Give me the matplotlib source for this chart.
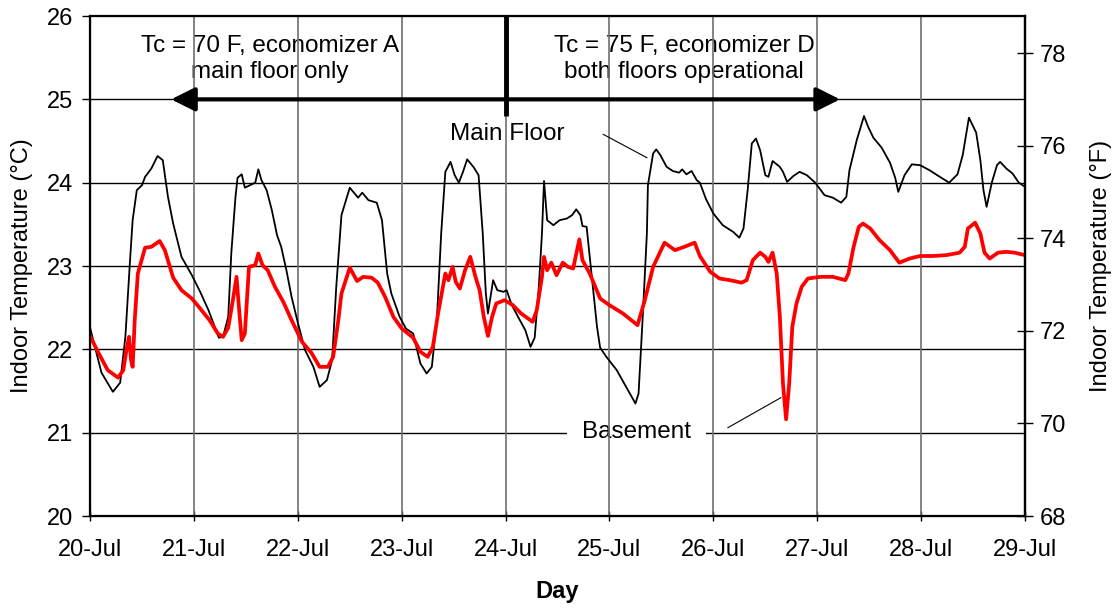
import matplotlib
matplotlib.use('Agg')
import matplotlib.pyplot as plt

plt.rcParams.update({
    'font.family': ['Liberation Sans', 'DejaVu Sans'],
    'font.size': 17,
})

# x positions are days after 20-Jul 00:00
day_ticks = list(range(10))
day_labels = ['20-Jul', '21-Jul', '22-Jul', '23-Jul', '24-Jul',
              '25-Jul', '26-Jul', '27-Jul', '28-Jul', '29-Jul']

main_floor_day = [
    0.00, 0.11, 0.22, 0.29, 0.34, 0.385, 0.41, 0.45, 0.50, 0.53, 0.59, 0.65, 0.70,
    0.75, 0.80, 0.88, 0.98, 1.06, 1.14, 1.20, 1.24, 1.28, 1.33, 1.36, 1.40, 1.42,
    1.46, 1.49, 1.54, 1.59, 1.62, 1.65, 1.70, 1.75, 1.80, 1.84, 1.89, 1.94, 2.00,
    2.07, 2.15, 2.21, 2.28, 2.33, 2.37, 2.42, 2.50, 2.58, 2.62, 2.68, 2.76, 2.81,
    2.86, 2.90, 2.98, 3.04, 3.11, 3.18, 3.24, 3.29, 3.34, 3.38, 3.42, 3.47, 3.51,
    3.55, 3.59, 3.63, 3.69, 3.74, 3.78, 3.81, 3.83, 3.88, 3.92, 3.98, 4.01, 4.06,
    4.12, 4.19, 4.24, 4.28, 4.32, 4.35, 4.37, 4.40, 4.46, 4.52, 4.59, 4.64, 4.68,
    4.72, 4.74, 4.78, 4.83, 4.88, 4.91, 4.97, 5.07, 5.16, 5.25, 5.28, 5.32, 5.36,
    5.37, 5.42, 5.45, 5.49, 5.55, 5.61, 5.67, 5.70, 5.74, 5.79, 5.84, 5.87, 5.93,
    6.00, 6.09, 6.19, 6.25, 6.29, 6.33, 6.37, 6.41, 6.45, 6.50, 6.53, 6.57, 6.64,
    6.67, 6.71, 6.77, 6.83, 6.90, 6.98, 7.07, 7.15, 7.23, 7.28, 7.31, 7.38, 7.45,
    7.49, 7.54, 7.62, 7.70, 7.75, 7.78, 7.84, 7.91, 7.99, 8.08, 8.18, 8.27, 8.35,
    8.40, 8.46, 8.53, 8.57, 8.60, 8.63, 8.68, 8.73, 8.76, 8.82, 8.88, 8.94, 9.00,
]
main_floor_c = [
    22.26, 21.72, 21.49, 21.60, 22.15, 23.07, 23.55, 23.91, 23.97, 24.07, 24.17, 24.32, 24.27,
    23.83, 23.51, 23.11, 22.89, 22.69, 22.47, 22.27, 22.14, 22.15, 22.39, 23.16, 23.83, 24.06,
    24.10, 23.94, 23.97, 24.00, 24.16, 24.03, 23.91, 23.67, 23.37, 23.23, 22.95, 22.63, 22.32,
    21.99, 21.79, 21.55, 21.63, 21.87, 22.75, 23.61, 23.94, 23.82, 23.88, 23.79, 23.76, 23.55,
    22.91, 22.67, 22.39, 22.25, 22.19, 21.83, 21.71, 21.79, 22.39, 23.39, 24.13, 24.25, 24.09,
    24.00, 24.13, 24.28, 24.19, 24.09, 23.39, 22.67, 22.43, 22.83, 22.71, 22.69, 22.71, 22.53,
    22.39, 22.23, 22.03, 22.14, 22.75, 23.39, 24.02, 23.55, 23.49, 23.55, 23.57, 23.61, 23.68,
    23.61, 23.48, 23.47, 22.87, 22.27, 22.02, 21.91, 21.75, 21.55, 21.35, 21.47, 22.39, 23.39,
    23.97, 24.35, 24.40, 24.33, 24.19, 24.14, 24.12, 24.16, 24.10, 24.14, 24.03, 24.00, 23.80,
    23.63, 23.49, 23.41, 23.34, 23.45, 23.91, 24.47, 24.53, 24.39, 24.09, 24.07, 24.26, 24.19,
    24.13, 24.01, 24.08, 24.13, 24.09, 24.00, 23.85, 23.82, 23.76, 23.83, 24.15, 24.51, 24.80,
    24.67, 24.54, 24.42, 24.24, 24.06, 23.89, 24.09, 24.22, 24.21, 24.15, 24.07, 24.00, 24.10,
    24.33, 24.78, 24.60, 24.27, 23.91, 23.71, 24.00, 24.21, 24.25, 24.17, 24.11, 24.00, 23.95,
]

basement_day = [
    0.00, 0.08, 0.17, 0.27, 0.32, 0.35, 0.375, 0.395, 0.41, 0.43, 0.46, 0.53, 0.59,
    0.67, 0.72, 0.80, 0.88, 0.98, 1.06, 1.15, 1.23, 1.28, 1.33, 1.38, 1.41, 1.43,
    1.46, 1.49, 1.53, 1.59, 1.62, 1.66, 1.71, 1.78, 1.86, 1.94, 2.04, 2.13, 2.21,
    2.29, 2.34, 2.39, 2.42, 2.50, 2.57, 2.63, 2.71, 2.77, 2.84, 2.92, 3.00, 3.11,
    3.18, 3.25, 3.30, 3.35, 3.42, 3.45, 3.49, 3.52, 3.56, 3.61, 3.66, 3.71, 3.75,
    3.79, 3.83, 3.87, 3.91, 3.99, 4.07, 4.15, 4.26, 4.30, 4.35, 4.37, 4.40, 4.44,
    4.49, 4.55, 4.60, 4.65, 4.71, 4.74, 4.81, 4.91, 5.00, 5.13, 5.27, 5.34, 5.42,
    5.53, 5.63, 5.72, 5.82, 5.87, 5.97, 6.06, 6.16, 6.27, 6.32, 6.38, 6.45, 6.50,
    6.53, 6.57, 6.61, 6.64, 6.67, 6.70, 6.73, 6.76, 6.80, 6.85, 6.91, 7.03, 7.15,
    7.27, 7.30, 7.35, 7.40, 7.44, 7.51, 7.60, 7.70, 7.79, 7.89, 7.99, 8.11, 8.24,
    8.37, 8.42, 8.45, 8.52, 8.57, 8.61, 8.66, 8.74, 8.82, 8.90, 9.00,
]
basement_c = [
    22.16, 21.96, 21.75, 21.66, 21.75, 21.99, 22.15, 21.87, 21.79, 22.35, 22.91, 23.22, 23.23,
    23.30, 23.19, 22.86, 22.71, 22.61, 22.49, 22.35, 22.19, 22.15, 22.26, 22.63, 22.87, 22.55,
    22.11, 22.19, 22.99, 23.01, 23.15, 23.01, 22.95, 22.75, 22.57, 22.35, 22.09, 21.96, 21.79,
    21.79, 21.91, 22.35, 22.67, 22.98, 22.82, 22.87, 22.86, 22.80, 22.63, 22.39, 22.25, 22.14,
    21.97, 21.91, 22.03, 22.43, 22.91, 22.83, 22.99, 22.81, 22.73, 22.95, 23.11, 22.87, 22.71,
    22.39, 22.16, 22.39, 22.55, 22.59, 22.53, 22.43, 22.33, 22.47, 22.87, 23.11, 22.95, 23.04,
    22.89, 23.04, 22.99, 22.97, 23.32, 23.07, 22.91, 22.61, 22.53, 22.43, 22.29, 22.59, 22.99,
    23.28, 23.19, 23.23, 23.28, 23.12, 22.93, 22.85, 22.83, 22.80, 22.83, 23.07, 23.16, 23.11,
    23.05, 23.16, 22.91, 22.39, 21.59, 21.16, 21.59, 22.27, 22.55, 22.75, 22.85, 22.87, 22.87,
    22.83, 22.91, 23.23, 23.47, 23.51, 23.45, 23.31, 23.19, 23.04, 23.09, 23.12, 23.12, 23.13,
    23.16, 23.23, 23.45, 23.52, 23.39, 23.16, 23.09, 23.16, 23.17, 23.16, 23.13,
]

fig = plt.figure(figsize=(11.2, 6.09), dpi=100)
ax = fig.add_axes([0.0804, 0.1527, 0.8348, 0.821])
ax.set_xlim(0, 9)
ax.set_ylim(20, 26)

# grid drawn by hand so the label box can sit between the two sets of lines
for t in range(21, 26):
    ax.axhline(t, color='black', lw=1.0, zorder=1)
for d in range(1, 9):
    ax.axvline(d, color='#707070', lw=1.2, zorder=2)

ax.plot(main_floor_day, main_floor_c, color='black', lw=1.3, zorder=3,
        solid_joinstyle='round')
ax.plot(basement_day, basement_c, color='#ff0000', lw=2.7, zorder=4,
        solid_joinstyle='round')

# period divider and arrows
ax.plot([4, 4], [24.8, 26], color='black', lw=3.5, solid_capstyle='butt', zorder=5)
ax.annotate('', xy=(0.78, 25), xytext=(7.22, 25),
            arrowprops=dict(arrowstyle='<|-|>', lw=3, color='black',
                            mutation_scale=36, shrinkA=0, shrinkB=0),
            zorder=5)

ax.text(1.73, 25.48, 'Tc = 70 F, economizer A\nmain floor only',
        ha='center', va='center', fontsize=17.5, linespacing=1.25, zorder=1.5)
ax.text(5.72, 25.48, 'Tc = 75 F, economizer D\nboth floors operational',
        ha='center', va='center', fontsize=17.5, linespacing=1.25, zorder=1.5)

ax.text(4.02, 24.58, 'Main Floor', ha='center', va='center', fontsize=17.5, zorder=1.5)
ax.plot([4.94, 5.36], [24.58, 24.30], color='black', lw=0.8, zorder=3)

ax.text(5.26, 21.01, 'Basement', ha='center', va='center', fontsize=17.5, zorder=1.5,
        bbox=dict(boxstyle='square,pad=0.6', facecolor='white', edgecolor='none'))
ax.plot([6.14, 6.65], [21.06, 21.42], color='black', lw=0.8, zorder=3)

ax.set_xticks(day_ticks)
ax.set_xticklabels(day_labels)
ax.set_yticks(range(20, 27))
ax.tick_params(axis='y', direction='out', length=6, width=1, pad=6, labelsize=17)
ax.tick_params(axis='x', direction='inout', length=7, width=1, pad=13, labelsize=17)
for s in ax.spines.values():
    s.set_linewidth(1.6)

ax.set_xlabel('Day', fontsize=17, fontweight='bold')
ax.xaxis.set_label_coords(0.5, -0.128)
ax.set_ylabel('Indoor Temperature (°C)', fontsize=17)
ax.yaxis.set_label_coords(-0.061, 0.5)

ax2 = ax.twinx()
ax2.set_ylim(68, 78.8)
ax2.set_yticks(range(68, 79, 2))
ax2.tick_params(axis='y', direction='inout', length=11, width=1, pad=5, labelsize=17)
ax2.spines['right'].set_linewidth(1.6)
ax2.set_ylabel('Indoor Temperature (°F)', fontsize=17)
ax2.yaxis.set_label_coords(1.07, 0.5)

fig.savefig('out.png', dpi=100)
